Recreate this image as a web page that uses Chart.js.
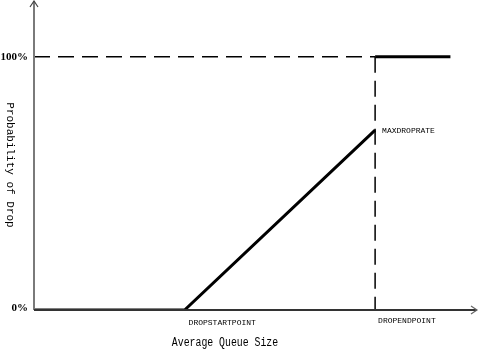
<!DOCTYPE html>
<html>
<head>
<meta charset="utf-8">
<script src="https://cdn.jsdelivr.net/npm/chart.js@4"></script>
<style>
html,body{margin:0;padding:0;background:#fff;}
#wrap{width:481px;height:351px;}
</style>
</head>
<body>
<div id="wrap"><canvas id="c" width="481" height="351"></canvas></div>
<script>
// Data (x: average queue size units, y: drop probability %)
const rampX = [0, 34, 77];
const rampY = [0, 0, 71];
const topX = [77, 94];
const topY = [100, 100];
const hDashX = [0, 77];
const hDashY = [100, 100];
const vDashX = [77, 77];
const vDashY = [100, 0];
const yTickValues = [0, 100];
const yTickLabels = ['0%', '100%'];
const pointLabels = [
  {text: 'MAXDROPRATE', x: 77, y: 71, dx: 7, dy: 1},
  {text: 'DROPSTARTPOINT', x: 34, y: 0, dx: 4, dy: 13},
  {text: 'DROPENDPOINT', x: 77, y: 0, dx: 3, dy: 11}
];
const xTitle = 'Average Queue Size';
const yTitle = 'Probability of Drop';

const pts = (xs, ys) => xs.map((x, i) => ({x, y: ys[i]}));

const axesPlugin = {
  id: 'axesPlugin',
  afterDatasetsDraw(chart) {
    const ctx = chart.ctx;
    const xs = chart.scales.x, ys = chart.scales.y;
    const left = xs.getPixelForValue(0);
    const bottom = ys.getPixelForValue(0);
    const top = chart.chartArea.top;
    const right = chart.chartArea.right;
    ctx.save();
    // y axis
    ctx.strokeStyle = '#7a7a7a';
    ctx.lineWidth = 2;
    ctx.beginPath();
    ctx.moveTo(left, bottom);
    ctx.lineTo(left, top);
    ctx.stroke();
    ctx.lineWidth = 1.2;
    ctx.strokeStyle = '#444';
    ctx.beginPath();
    ctx.moveTo(left - 4, top + 6);
    ctx.lineTo(left, top);
    ctx.lineTo(left + 4, top + 6);
    ctx.stroke();
    // x axis
    ctx.strokeStyle = '#333';
    ctx.lineWidth = 2;
    ctx.beginPath();
    ctx.moveTo(left, bottom);
    ctx.lineTo(right, bottom);
    ctx.stroke();
    ctx.lineWidth = 1.2;
    ctx.strokeStyle = '#666';
    ctx.beginPath();
    ctx.moveTo(right - 6, bottom - 4);
    ctx.lineTo(right, bottom);
    ctx.lineTo(right - 6, bottom + 4);
    ctx.stroke();
    // y tick labels
    ctx.fillStyle = '#000';
    ctx.font = 'bold 11px "Liberation Serif", serif';
    ctx.textAlign = 'right';
    ctx.textBaseline = 'middle';
    yTickValues.forEach((v, i) => {
      ctx.fillText(yTickLabels[i], left - 6, ys.getPixelForValue(v) - (v === 0 ? 2 : 0));
    });
    // point labels
    ctx.font = '8px "Liberation Mono", monospace';
    ctx.textAlign = 'left';
    pointLabels.forEach(p => {
      ctx.fillText(p.text, xs.getPixelForValue(p.x) + p.dx, ys.getPixelForValue(p.y) + p.dy);
    });
    // x title (narrow half-width look)
    ctx.save();
    ctx.translate(225, bottom + 33);
    ctx.scale(0.82, 1);
    ctx.font = '12px "Liberation Mono", monospace';
    ctx.textAlign = 'center';
    ctx.fillText(xTitle, 0, 0);
    ctx.restore();
    // y title
    ctx.save();
    ctx.translate(10, 165);
    ctx.rotate(Math.PI / 2);
    ctx.font = '11px "Liberation Mono", monospace';
    ctx.textAlign = 'center';
    ctx.fillText(yTitle, 0, 0);
    ctx.restore();
    ctx.restore();
  }
};

new Chart(document.getElementById('c'), {
  type: 'line',
  data: {
    datasets: [
      {data: pts(hDashX, hDashY), borderColor: '#000', borderWidth: 1.5, borderDash: [16, 8], pointRadius: 0},
      {data: pts(vDashX, vDashY), borderColor: '#000', borderWidth: 1.5, borderDash: [16, 8], pointRadius: 0},
      {data: pts(rampX, rampY), borderColor: '#000', borderWidth: 3, pointRadius: 0},
      {data: pts(topX, topY), borderColor: '#000', borderWidth: 3, pointRadius: 0}
    ]
  },
  options: {
    responsive: false,
    animation: false,
    devicePixelRatio: 1,
    layout: {padding: {left: 34, right: 4, top: 1, bottom: 41}},
    plugins: {legend: {display: false}, tooltip: {enabled: false}},
    scales: {
      x: {type: 'linear', min: 0, max: 100, display: false},
      y: {type: 'linear', min: 0, max: 122, display: false}
    }
  },
  plugins: [axesPlugin]
});
</script>
</body>
</html>
